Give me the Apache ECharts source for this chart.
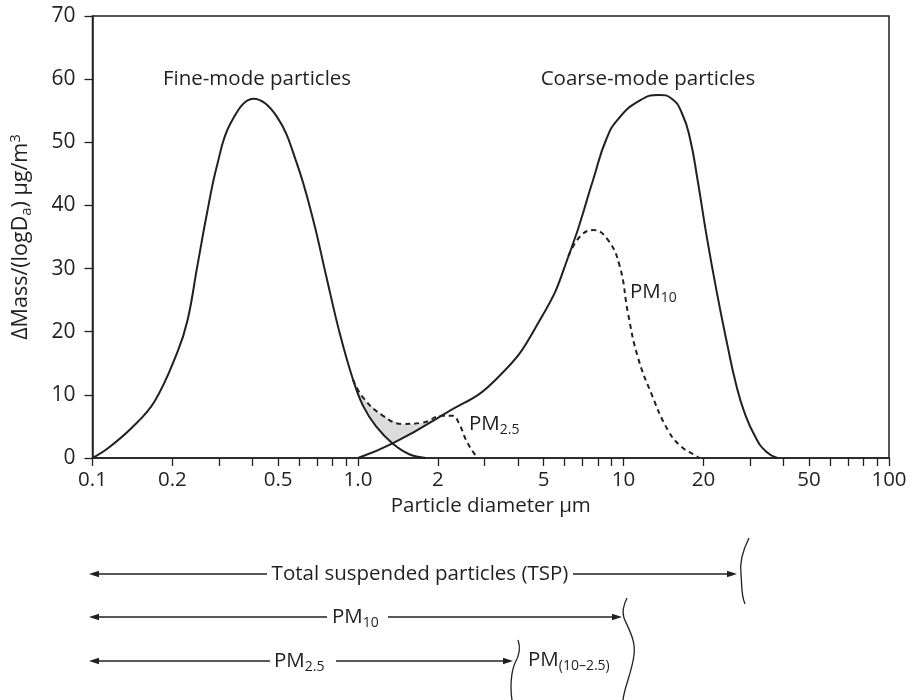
<!DOCTYPE html>
<html><head><meta charset="utf-8">
<script src="https://cdn.jsdelivr.net/npm/echarts@6/dist/echarts.min.js"></script>
<style>html,body{margin:0;padding:0;background:#fff}#c{width:913px;height:700px}</style>
</head><body><div id="c"></div>
<script>
// ---- data (diameter in µm, ΔMass/(logDa) in µg/m3) ----
const xTickValues = [0.1,0.2,0.3,0.4,0.5,0.6,0.7,0.8,0.9,1,2,3,4,5,6,7,8,9,10,20,30,40,50,60,70,80,90,100];
const xLabelValues = [0.1,0.2,0.5,1,2,5,10,20,50,100];
const xLabelTexts = ['0.1','0.2','0.5','1.0','2','5','10','20','50','100'];

const fineMode = [[0.1,0],[0.114,1.5],[0.14,4.7],[0.171,8.9],[0.209,16.8],[0.228,21.8],[0.248,30.3],[0.27,38.8],[0.294,46.2],[0.331,53.0],[0.404,56.9],[0.494,54.1],[0.588,46.7],[0.678,37.7],[0.76,28.7],[0.853,19.8],[0.958,12.4],[1.044,8.3],[1.17,5.0],[1.35,2.3],[1.56,0.6],[1.8,0]];

const coarseMode = [[1.0,0],[1.35,2.3],[2.08,6.8],[3.3,12.4],[4.93,22.4],[6.3,32.7],[7.69,44.1],[8.6,50.4],[9.6,53.8],[11.5,56.6],[13.6,57.5],[15.2,56.9],[16.6,54.6],[17.8,50.6],[19.0,44.1],[20.5,35.5],[22.4,26.5],[24.7,17.6],[26.5,11.8],[28.5,7.3],[31.5,3.2],[34.5,1.0],[38,0]];

const pm25Cut = [[0.958,12.4],[1.044,9.6],[1.24,6.7],[1.47,5.4],[1.75,5.6],[2.08,6.7],[2.27,6.7],[2.4,5.5],[2.55,2.9],[2.74,0.7],[2.85,0]];

const pm10Cut = [[6.2,32.0],[6.9,35.2],[7.69,36.1],[8.75,34.5],[9.69,30.3],[10.4,22.9],[11.3,16.1],[12.7,10.3],[14.7,4.4],[16.5,1.8],[18.5,0.5],[19.3,0]];

// shaded region between PM2.5 cut curve and the two modes (built from the arrays above)
const shadeUpper = pm25Cut.filter(p => p[0] >= 0.958 && p[0] <= 2.08);
const shadeLower = fineMode.filter(p => p[0] >= 0.958 && p[0] <= 1.35)
  .concat(coarseMode.filter(p => p[0] > 1.35 && p[0] <= 2.08));

// ---- styling ----
const INK = '#231f20';
const FONT = 'Open Sans';
const FS = 20.5;

function labelFor(v) {
  let best = 0, bd = Infinity;
  xLabelValues.forEach((x, i) => {
    const d = Math.abs(Math.log10(x) - Math.log10(v));
    if (d < bd) { bd = d; best = i; }
  });
  return xLabelTexts[best];
}

const richBase = {
  m: {fontFamily: FONT, fontSize: FS, color: INK, fill: INK},
  s: {fontFamily: FONT, fontSize: 14, color: INK, fill: INK, padding: [12, 0, 0, 0]},
  u: {fontFamily: FONT, fontSize: 14, color: INK, fill: INK, padding: [0, 0, 10, 0]}
};
const richName = {
  m: {fontFamily: FONT, fontSize: 21.5, color: INK},
  s: {fontFamily: FONT, fontSize: 15, color: INK, padding: [12, 0, 0, 0]},
  u: {fontFamily: FONT, fontSize: 15, color: INK, padding: [0, 0, 11, 0]}
};

function txt(text, x, y, align) {
  return {type: 'text', z: 10, style: {text: text, x: x, y: y, align: align || 'left', verticalAlign: 'middle',
    fontFamily: FONT, fontSize: FS, fill: INK, rich: richBase}};
}
function hline(x1, x2, y) {
  return {type: 'line', shape: {x1: x1, y1: y, x2: x2, y2: y}, style: {stroke: INK, lineWidth: 1.5}};
}
function headL(x, y) {
  return {type: 'polygon', shape: {points: [[x, y], [x + 10, y - 3.2], [x + 10, y + 3.2]]}, style: {fill: INK}};
}
function headR(x, y) {
  return {type: 'polygon', shape: {points: [[x, y], [x - 10, y - 3.2], [x - 10, y + 3.2]]}, style: {fill: INK}};
}
function curve(x1, y1, c1x, c1y, c2x, c2y, x2, y2) {
  return {type: 'bezierCurve', shape: {x1: x1, y1: y1, cpx1: c1x, cpy1: c1y, cpx2: c2x, cpy2: c2y, x2: x2, y2: y2},
    style: {stroke: INK, lineWidth: 1.3, fill: null}};
}

const graphics = [
  txt('Fine-mode particles', 257, 79, 'center'),
  txt('Coarse-mode particles', 648, 79, 'center'),
  txt('{m|PM}{s|10}', 630, 292),
  txt('{m|PM}{s|2.5}', 469, 424),
  // TSP row
  hline(92, 267, 574), headL(89, 574), txt('Total suspended particles (TSP)', 420, 574, 'center'),
  hline(573, 734, 574), headR(737, 574),
  curve(749, 538, 744, 548, 739, 560, 741, 574),
  curve(741, 574, 742, 586, 741, 595, 745, 604),
  // PM10 row
  hline(92, 327, 617), headL(89, 617), txt('{m|PM}{s|10}', 332, 617),
  hline(388, 619, 617), headR(622, 617),
  curve(627, 598, 623, 606, 622, 612, 624, 618),
  curve(624, 618, 628, 628, 636, 640, 634, 655),
  curve(634, 655, 632, 672, 624, 688, 623, 700),
  // PM2.5 row
  hline(92, 270, 661), headL(89, 661), txt('{m|PM}{s|2.5}', 274, 661),
  hline(336, 510, 661), headR(513, 661),
  curve(518, 640, 521, 648, 519, 656, 515, 663),
  curve(515, 663, 511, 672, 510, 688, 512, 700),
  txt('{m|PM}{s|(10–2.5)}', 528, 660)
];

const chart = echarts.init(document.getElementById('c'), null, {renderer: 'canvas'});
chart.setOption({
  backgroundColor: '#fff',
  animation: false,
  grid: {left: 88, right: 24, top: 16, bottom: 242, show: true, borderColor: INK, borderWidth: 1.5, backgroundColor: 'transparent'},
  xAxis: {
    type: 'log', logBase: 10, min: 0.1, max: 100,
    name: 'Particle diameter μm', nameLocation: 'middle', nameGap: 37,
    nameTextStyle: {fontFamily: FONT, fontSize: FS, color: INK},
    axisLine: {lineStyle: {color: INK, width: 1.5}},
    axisTick: {show: true, length: 8, inside: false, customValues: xTickValues, lineStyle: {color: INK, width: 1.3}},
    axisLabel: {customValues: xLabelValues, formatter: v => labelFor(v), fontFamily: FONT, fontSize: FS, color: INK, margin: 12},
    splitLine: {show: false}, minorTick: {show: false}
  },
  yAxis: {
    type: 'value', min: 0, max: 70, interval: 10,
    name: '{m|ΔMass/(logD}{s|a}{m|) μg/m}{u|3}', nameLocation: 'middle', nameGap: 58, nameRotate: 90,
    nameTextStyle: {fontFamily: FONT, fontSize: 21.5, color: INK, rich: richName},
    axisLine: {show: true, lineStyle: {color: INK, width: 1.5}},
    axisTick: {show: true, length: 8, inside: false, lineStyle: {color: INK, width: 1.3}},
    axisLabel: {fontFamily: FONT, fontSize: 21, color: INK, margin: 17},
    splitLine: {show: false}
  },
  series: [
    {type: 'custom', coordinateSystem: 'cartesian2d', data: [[1, 5]], silent: true, z: 1,
      renderItem: function (params, api) {
        const pts = shadeUpper.map(p => api.coord(p)).concat(shadeLower.slice().reverse().map(p => api.coord(p)));
        return {type: 'polygon', shape: {points: pts, smooth: 0.2}, style: {fill: '#dcdcde', stroke: null}};
      }},
    {name: 'Fine mode', type: 'line', data: fineMode, smooth: 0.4, showSymbol: false, z: 3,
      lineStyle: {color: INK, width: 2}},
    {name: 'Coarse mode', type: 'line', data: coarseMode, smooth: 0.5, showSymbol: false, z: 3,
      lineStyle: {color: INK, width: 2}},
    {name: 'PM2.5', type: 'line', data: pm25Cut, smooth: 0.45, showSymbol: false, z: 2,
      lineStyle: {color: INK, width: 2, type: [5, 4]}},
    {name: 'PM10', type: 'line', data: pm10Cut, smooth: 0.45, showSymbol: false, z: 2,
      lineStyle: {color: INK, width: 2, type: [5, 4]}}
  ],
  graphic: graphics
});
</script>
</body></html>
